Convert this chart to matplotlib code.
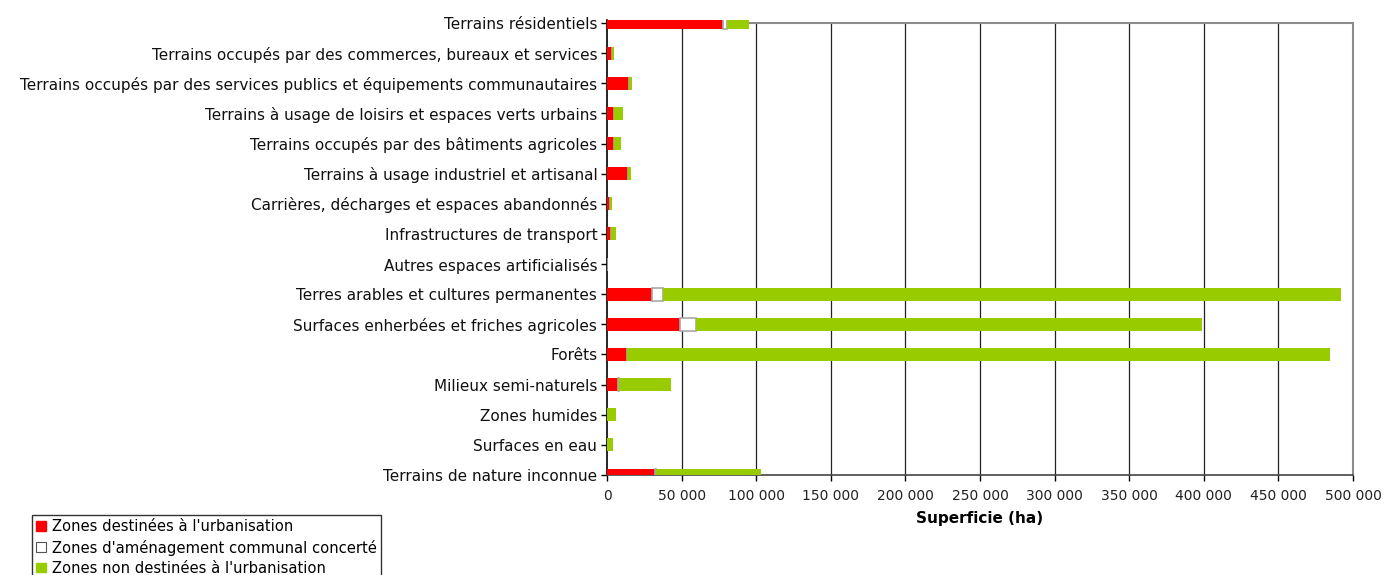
import matplotlib.pyplot as plt
from matplotlib.patches import Patch
from matplotlib.ticker import FuncFormatter

categories = [
    "Terrains résidentiels",
    "Terrains occupés par des commerces, bureaux et services",
    "Terrains occupés par des services publics et équipements communautaires",
    "Terrains à usage de loisirs et espaces verts urbains",
    "Terrains occupés par des bâtiments agricoles",
    "Terrains à usage industriel et artisanal",
    "Carrières, décharges et espaces abandonnés",
    "Infrastructures de transport",
    "Autres espaces artificialisés",
    "Terres arables et cultures permanentes",
    "Surfaces enherbées et friches agricoles",
    "Forêts",
    "Milieux semi-naturels",
    "Zones humides",
    "Surfaces en eau",
    "Terrains de nature inconnue",
]

# superficies en hectares
urbanisation = [77700, 3300, 14700, 4700, 4700, 14000, 2000, 2700, 0,
                30000, 49000, 13200, 7200, 0, 0, 32000]
zac = [2500, 0, 0, 0, 0, 0, 0, 0, 0,
       7500, 10500, 0, 900, 0, 0, 700]
non_urbanisation = [15000, 1300, 2000, 6000, 4700, 2000, 1300, 3300, 0,
                    454500, 339300, 471400, 34800, 6000, 4000, 70500]

RED = "#FF0000"
GREEN = "#99CC00"
EDGE = "#A8A8A8"

plt.rcParams["font.family"] = "DejaVu Sans"

fig = plt.figure(figsize=(13.86, 5.75), dpi=100)
ax = fig.add_axes([607 / 1386, 1 - 475 / 575, (1353 - 607) / 1386, (475 - 20) / 575])

y = list(range(len(categories)))
h = 0.43
left2 = [a + b for a, b in zip(urbanisation, zac)]
ax.barh(y, urbanisation, height=h, color=RED, zorder=3)
ax.barh(y, zac, left=urbanisation, height=h, color="white",
        edgecolor=EDGE, linewidth=1.2, zorder=3)
ax.barh(y, non_urbanisation, left=left2, height=h, color=GREEN, zorder=3)

xticks = list(range(0, 500001, 50000))
ax.set_xlim(0, 500000)
ax.set_ylim(15, -0.1)
ax.vlines(xticks[1:-1], 0, 15, color="#222222", linewidth=0.9, zorder=1)
ax.axhline(0, color="#8C8C8C", linewidth=1.5, zorder=2)

ax.set_xticks(xticks)
ax.xaxis.set_major_formatter(FuncFormatter(lambda v, p: f"{int(v):,}".replace(",", " ")))
ax.set_yticks(y)
ax.set_yticklabels(categories, fontsize=11, color="#111111")
ax.tick_params(axis="y", length=4, width=1, pad=3)
ax.tick_params(axis="x", length=4, width=1, pad=6, labelsize=10, labelcolor="#222222")

ax.spines["top"].set_visible(False)
ax.spines["right"].set_color("#8C8C8C")
ax.spines["right"].set_linewidth(1.5)
ax.spines["right"].set_bounds(0, 15)
ax.spines["left"].set_linewidth(1.2)
ax.spines["bottom"].set_color("#444444")
ax.spines["bottom"].set_linewidth(1.2)

ax.set_xlabel("Superficie (ha)", fontsize=11, fontweight="bold", labelpad=6)

handles = [
    Patch(facecolor=RED, edgecolor=RED),
    Patch(facecolor="white", edgecolor="#555555", linewidth=0.8),
    Patch(facecolor=GREEN, edgecolor=GREEN),
]
labels = [
    "Zones destinées à l'urbanisation",
    "Zones d'aménagement communal concerté",
    "Zones non destinées à l'urbanisation",
]
leg = fig.legend(handles, labels, loc="upper left",
                 bbox_to_anchor=(32 / 1386, 1 - 515 / 575),
                 fontsize=10.6, frameon=True, fancybox=False,
                 edgecolor="black", handlelength=0.65, handleheight=0.65,
                 handletextpad=0.4, labelspacing=0.35, borderpad=0.3,
                 borderaxespad=0)
leg.get_frame().set_linewidth(1.0)

fig.savefig("out.png", dpi=100)
